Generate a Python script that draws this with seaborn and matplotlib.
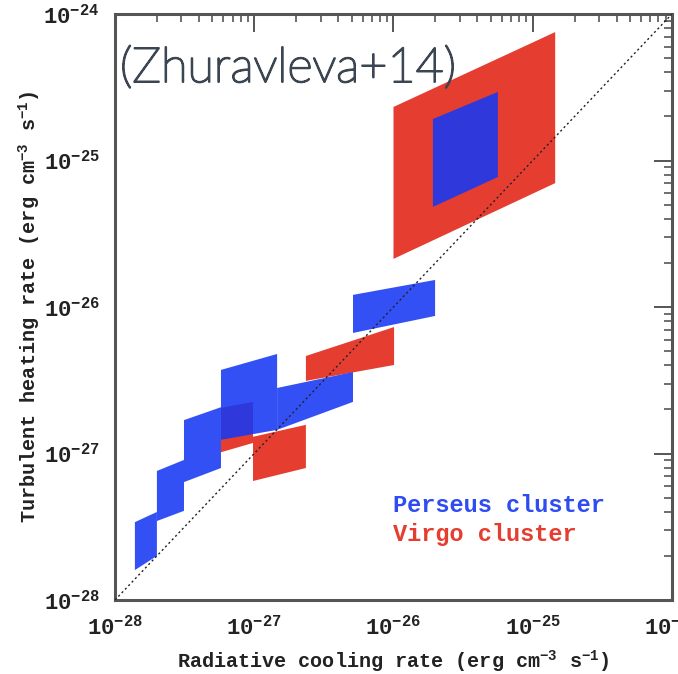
import matplotlib
matplotlib.use("Agg")
import matplotlib.pyplot as plt
import matplotlib.patheffects as pe
import seaborn as sns
import pandas as pd
from matplotlib.ticker import LogLocator, NullFormatter, FixedLocator, FixedFormatter

# Perseus annuli: cooling-rate range, heating-rate band at the low and high cooling ends
perseus_cool_lo = [1.39e-28, 2.00e-28, 3.13e-28, 5.77e-28, 1.46e-27, 5.12e-27, 1.92e-26]
perseus_cool_hi = [2.00e-28, 3.13e-28, 5.77e-28, 1.46e-27, 5.12e-27, 1.99e-26, 5.62e-26]
perseus_heat_lo_left = [1.60e-28, 3.46e-28, 6.38e-28, 1.24e-27, 1.45e-27, 6.65e-27, 4.82e-26]
perseus_heat_hi_left = [3.40e-28, 7.60e-28, 1.69e-27, 3.72e-27, 2.80e-27, 1.21e-26, 1.92e-25]
perseus_heat_lo_right = [2.00e-28, 4.06e-28, 7.96e-28, 1.45e-27, 2.25e-27, 8.69e-27, 7.71e-26]
perseus_heat_hi_right = [3.99e-28, 9.04e-28, 2.07e-27, 4.78e-27, 3.60e-27, 1.53e-26, 2.94e-25]

# Virgo annuli
virgo_cool_lo = [5.77e-28, 9.80e-28, 2.35e-27, 1.00e-26]
virgo_cool_hi = [9.80e-28, 2.35e-27, 1.01e-26, 1.45e-25]
virgo_heat_lo_left = [1.02e-27, 6.49e-28, 3.13e-27, 2.13e-26]
virgo_heat_hi_left = [2.05e-27, 1.30e-27, 4.63e-27, 2.32e-25]
virgo_heat_lo_right = [1.18e-27, 7.96e-28, 4.02e-27, 7.01e-26]
virgo_heat_hi_right = [2.25e-27, 1.57e-27, 7.30e-27, 7.53e-25]

# one-to-one line and axis decades
equality = [1e-28, 1e-24]
decades = [1e-28, 1e-27, 1e-26, 1e-25, 1e-24]
decade_labels = [r"$\mathbf{10^{-28}}$", r"$\mathbf{10^{-27}}$", r"$\mathbf{10^{-26}}$",
                 r"$\mathbf{10^{-25}}$", r"$\mathbf{10^{-24}}$"]

RED = "#E53E31"
BLUE = "#1638F4"
FRAME = "#555555"
INK = "#222222"
TITLE = "#3B4652"

sns.set_theme(style="white")
plt.rcParams["font.family"] = ["Liberation Mono", "DejaVu Sans Mono"]
plt.rcParams["mathtext.fontset"] = "custom"
plt.rcParams["mathtext.rm"] = "Liberation Mono"
plt.rcParams["mathtext.bf"] = "Liberation Mono:bold"
plt.rcParams["mathtext.it"] = "Liberation Mono"

fig = plt.figure(figsize=(6.78, 6.74), dpi=100, facecolor="white")
ax = fig.add_axes([0.1696, 0.1098, 0.8215, 0.8694])
ax.set_facecolor("white")
ax.set_xscale("log")
ax.set_yscale("log")
ax.set_xlim(1e-28, 1e-24)
ax.set_ylim(1e-28, 1e-24)


def band(lo, hi, yl_lo, yl_hi, yr_lo, yr_hi):
    return [lo, hi, hi, lo], [yl_lo, yr_lo, yr_hi, yl_hi]


for i in range(len(virgo_cool_lo)):
    xs, ys = band(virgo_cool_lo[i], virgo_cool_hi[i], virgo_heat_lo_left[i],
                  virgo_heat_hi_left[i], virgo_heat_lo_right[i], virgo_heat_hi_right[i])
    ax.fill(xs, ys, color=RED, lw=0, zorder=2)

for i in range(len(perseus_cool_lo)):
    xs, ys = band(perseus_cool_lo[i], perseus_cool_hi[i], perseus_heat_lo_left[i],
                  perseus_heat_hi_left[i], perseus_heat_lo_right[i], perseus_heat_hi_right[i])
    ax.fill(xs, ys, color=BLUE, alpha=0.88, lw=0, zorder=3)

diag = pd.DataFrame({"cool": equality, "heat": equality})
sns.lineplot(data=diag, x="cool", y="heat", ax=ax, color=INK, lw=1.0,
             linestyle=(0, (1.5, 2.0)), zorder=4)

ax.set_xlabel(r"Radiative cooling rate (erg cm$^{\mathbf{-3}}$ s$^{\mathbf{-1}}$)",
              fontsize=14.5, fontweight="bold", color=INK)
ax.set_ylabel(r"Turbulent heating rate (erg cm$^{\mathbf{-3}}$ s$^{\mathbf{-1}}$)",
              fontsize=14.5, fontweight="bold", color=INK)
ax.xaxis.set_label_coords(0.5, -0.083)
ax.yaxis.set_label_coords(-0.13, 0.5)

for axis in (ax.xaxis, ax.yaxis):
    axis.set_major_locator(FixedLocator(decades))
    axis.set_major_formatter(FixedFormatter(decade_labels))
    axis.set_minor_locator(LogLocator(base=10, subs=range(2, 10), numticks=20))
    axis.set_minor_formatter(NullFormatter())

ax.tick_params(which="both", direction="in", top=True, right=True,
               color=FRAME, labelcolor=INK, labelsize=16)
ax.tick_params(which="major", length=13, width=1.4, pad=11)
ax.tick_params(which="minor", length=6, width=1.2)

for sp in ax.spines.values():
    sp.set_color(FRAME)
    sp.set_linewidth(2.2)

fig.text(393 / 678, 1 - 506 / 674, "Perseus cluster", ha="left", va="center",
         fontsize=17, fontweight="bold", color="#2E4CF2")
fig.text(393 / 678, 1 - 535 / 674, "Virgo cluster", ha="left", va="center",
         fontsize=17, fontweight="bold", color=RED)

fig.text(120 / 678, 1 - 82 / 674, "(Zhuravleva+14)", ha="left", va="baseline",
         fontsize=35, family=["Lato", "DejaVu Sans"], fontweight="light", color=TITLE,
         path_effects=[pe.withStroke(linewidth=1.4, foreground=TITLE)])

fig.savefig("out.png", dpi=100, facecolor="white")
